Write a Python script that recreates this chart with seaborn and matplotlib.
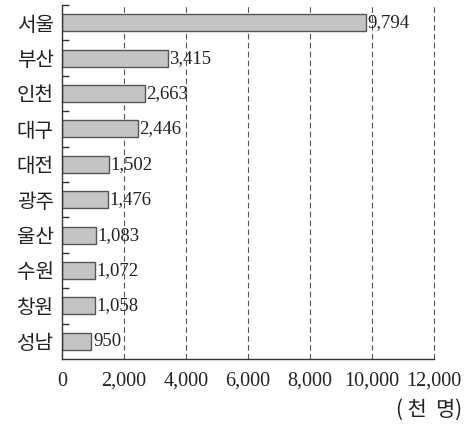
import numpy as np
import pandas as pd
import matplotlib
matplotlib.use("Agg")
import matplotlib.pyplot as plt
import seaborn as sns

cities = ["서울", "부산", "인천", "대구", "대전", "광주", "울산", "수원", "창원", "성남"]
population = [9794, 3415, 2663, 2446, 1502, 1476, 1083, 1072, 1058, 950]
x_ticks = [0, 2000, 4000, 6000, 8000, 10000, 12000]
unit_label = "( 천  명)"

sns.set_theme(style="white")
plt.rcParams["font.family"] = ["Liberation Serif", "Noto Sans CJK KR", "DejaVu Sans"]

df = pd.DataFrame({"city": cities, "pop": population})

fig = plt.figure(figsize=(4.69, 4.28), dpi=100)
ax = fig.add_axes([62 / 469, (428 - 359) / 428, (434 - 62) / 469, (359 - 5) / 428])

# dashed vertical guides behind the bars
for v in x_ticks[1:]:
    ax.axvline(v, color="#555555", lw=0.8, ls=(0, (5, 3)), zorder=0, clip_on=False)

sns.barplot(data=df, x="pop", y="city", orient="h", width=0.48,
            color="#c4c4c4", edgecolor="#555555", linewidth=1.0,
            saturation=1, ax=ax, zorder=2)

for i, v in enumerate(population):
    ax.text(v + 50, i, f"{v:,}", ha="left", va="center", fontsize=13.5,
            family="Liberation Serif", color="#222222", zorder=3)

ax.set_xlim(0, 12000)
ax.set_ylim(9.5, -0.5)
ax.set_xticks(x_ticks)
ax.set_xticklabels([f"{t:,}" for t in x_ticks], fontsize=14.5,
                   family="Liberation Serif", color="#222222")
ax.set_yticks(range(len(cities)))
ax.set_yticklabels(cities, fontsize=14.5, family="Noto Sans CJK KR", color="#222222")
ax.tick_params(axis="y", length=0, pad=6)
ax.tick_params(axis="x", length=0, pad=9)
ax.set_xlabel("")
ax.set_ylabel("")

# short inward marks on the left spine between category slots
bounds = np.arange(len(cities)) - 0.5
ax.hlines(bounds, 0, 0.02, transform=ax.get_yaxis_transform(),
          colors="#333333", lw=1.0, clip_on=False, zorder=3)

for s in ["top", "right"]:
    ax.spines[s].set_visible(False)
for s in ["left", "bottom"]:
    ax.spines[s].set_color("#333333")
    ax.spines[s].set_linewidth(1.0)

fig.text(462 / 469, 1 - 410 / 428, unit_label, ha="right", va="center",
         fontsize=15, family=["Noto Sans CJK KR"], color="#222222")

fig.savefig("out.png", dpi=100)
